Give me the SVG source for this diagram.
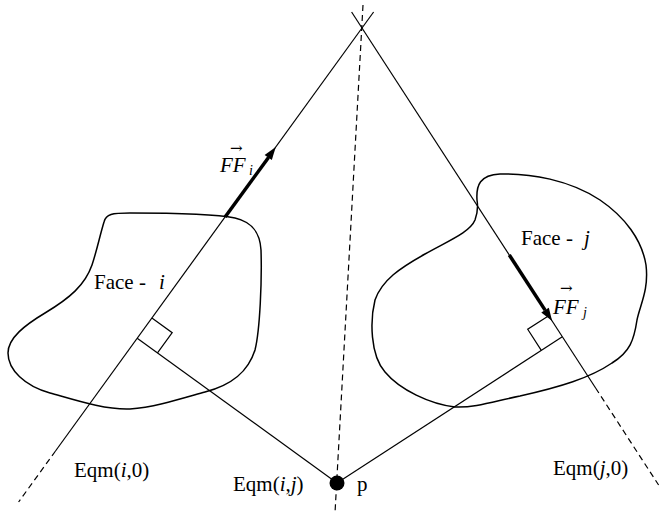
<svg xmlns="http://www.w3.org/2000/svg" width="660" height="513" viewBox="0 0 660 513">
<style>
.ln{stroke:#000;stroke-width:1.2;fill:none}
.ds{stroke:#000;stroke-width:1.2;fill:none;stroke-dasharray:6 4}
.th{stroke:#000;stroke-width:3.5;fill:none}
.blob{stroke:#000;stroke-width:1.5;fill:none}
.t{font-family:"Liberation Serif","Times New Roman",serif;font-size:21px;fill:#000}
.it{font-style:italic}
.vec{font-family:"DejaVu Serif",serif;font-style:normal;font-size:15px}
.sub{font-size:14px}
</style>
<rect width="660" height="513" fill="#fff"/>
<g id="face-i">
<path class="blob" d="M104,222 C106,214 112,213 130,213 C170,213 215,214 235,218 C252,222 260,232 261,250 C262,280 260,330 255,350 C248,372 232,385 205,392 C180,399 155,407 130,409 C105,410 75,400 50,393 C25,386 8,370 8,353 C8,338 25,325 45,313 C70,298 85,285 92,265 C97,250 100,235 104,222 Z"/>
<text class="t" x="94" y="289">Face - <tspan class="it" x="159">i</tspan></text>
</g>
<g id="face-j">
<path class="blob" d="M477,200 C476,185 480,175 500,174 C530,173 570,180 600,200 C625,217 642,240 646,265 C649,290 640,305 637,320 C634,340 630,352 612,363 C590,378 560,387 520,396 C495,401 475,408 455,407 C430,404 400,390 385,372 C370,355 370,320 375,300 C382,280 400,268 425,254 C450,240 470,232 475,220 C478,212 478,206 477,200 Z"/>
<text class="t" x="521" y="245">Face - <tspan class="it" x="584">j</tspan></text>
</g>
<g id="point-p">
<circle cx="337" cy="483" r="7.5" fill="#000"/>
<text class="t" x="357" y="491">p</text>
</g>
<g id="connectors">
<line class="ln" x1="373.6" y1="12" x2="55.5" y2="451"/>
<line class="ds" x1="55.5" y1="451" x2="18.6" y2="502"/>
<line class="ln" x1="351.6" y1="12" x2="595.6" y2="388"/>
<line class="ds" x1="595.6" y1="388" x2="658.6" y2="485"/>
<line class="ds" x1="363" y1="5" x2="335" y2="513"/>
<line class="ln" x1="137.2" y1="338.2" x2="337" y2="483"/>
<line class="ln" x1="562.3" y1="336.7" x2="337" y2="483"/>
<polyline class="ln" points="151.9,318.0 172.2,332.7 157.5,352.9"/>
<polyline class="ln" points="548.7,315.7 527.7,329.3 541.3,350.3"/>
<line class="th" x1="225.1" y1="217" x2="268.5" y2="157.5"/>
<polygon points="275.8,147 271.8,160.1 264.6,154.9" fill="#000"/>
<line class="th" x1="509.3" y1="255" x2="545.1" y2="310.1"/>
<polygon points="552.1,321 548.8,307.7 541.3,312.5" fill="#000"/>
</g>
<g id="labels">
<text class="t it"><tspan class="vec" x="230" y="153">→</tspan><tspan x="220" y="172">FF</tspan><tspan class="sub" x="249" y="175">i</tspan></text>
<text class="t it"><tspan class="vec" x="560" y="293">→</tspan><tspan x="553" y="314">FF</tspan><tspan class="sub" x="583" y="317">j</tspan></text>
<text class="t" x="74" y="477">Eqm(<tspan class="it">i</tspan>,0)</text>
<text class="t" x="233" y="491">Eqm(<tspan class="it">i</tspan>,<tspan class="it">j</tspan>)</text>
<text class="t" x="553" y="475">Eqm(<tspan class="it">j</tspan>,0)</text>
</g>
</svg>
